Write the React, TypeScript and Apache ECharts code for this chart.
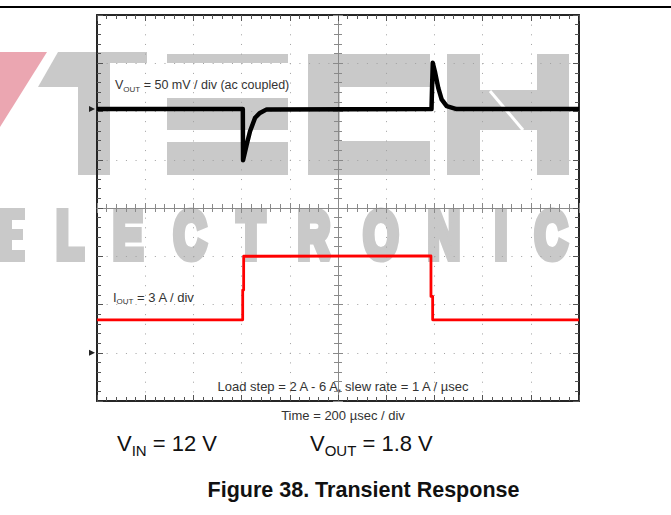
import React, { useEffect, useRef } from 'react';
import * as echarts from 'echarts';

// ---- scope settings ----
const TIME_MIN_US = 0;
const TIME_MAX_US = 2000;
const TIME_US_PER_DIV = 200;
const DIV_MIN = -4;
const DIV_MAX = 4;

// ---- channel 1: VOUT (ac coupled), 50 mV/div ----
const VOUT_MV_PER_DIV = 50;
const VOUT_OFFSET_DIV = 2.05;
const voutTimeUs = [0, 605, 606, 621, 635, 656, 676, 704, 1388, 1393, 1402, 1416, 1430, 1451, 1492, 2000];
const voutMv = [0, 0, -53, -37, -23, -9, -4, -0.3, 0, 48, 39, 22, 10, 3, 0, 0];

// ---- channel 2: IOUT, 3 A/div ----
const IOUT_A_PER_DIV = 3;
const IOUT_OFFSET_DIV = -3;
const ioutTimeUs = [0, 604.5, 604.6, 608.5, 608.6, 1385.7, 1385.8, 1392.7, 1392.8, 2000];
const ioutA = [2.05, 2.05, 3.9, 3.9, 6.0, 6.02, 3.5, 3.5, 2.05, 2.05];

// ---- texts ----
const voutLabel = ['V', 'OUT', ' = 50 mV / div (ac coupled)'];
const ioutLabel = ['I', 'OUT', ' = 3 A / div'];
const loadStepLabel = 'Load step = 2 A - 6 A, slew rate = 1 A / µsec';
const timeLabel = 'Time = 200 µsec / div';
const vinCond = ['V', 'IN', ' = 12 V'];
const voutCond = ['V', 'OUT', ' = 1.8 V'];
const figureTitle = 'Figure 38. Transient Response';
const watermarkLetters = ['L', 'E', 'C', 'T', 'R', 'O', 'N', 'I', 'C'];

const FONT = '"Liberation Sans", Arial, Helvetica, sans-serif';

function buildWatermark(): any[] {
  const gray = '#c9c9c9';
  const els: any[] = [];
  const z = -10;
  els.push({ type: 'polygon', z, shape: { points: [[0, 52], [47, 52], [0, 127]] }, style: { fill: '#eba6b1' } });
  // T
  els.push({ type: 'polygon', z, shape: { points: [[58, 52], [147, 52], [147, 87], [38, 87]] }, style: { fill: gray } });
  els.push({ type: 'rect', z, shape: { x: 78, y: 52, width: 32, height: 123 }, style: { fill: gray } });
  // E (three bars)
  els.push({ type: 'rect', z, shape: { x: 167, y: 54, width: 121, height: 32 }, style: { fill: gray } });
  els.push({ type: 'rect', z, shape: { x: 167, y: 98, width: 121, height: 32 }, style: { fill: gray } });
  els.push({ type: 'rect', z, shape: { x: 167, y: 142, width: 121, height: 33 }, style: { fill: gray } });
  // C
  els.push({ type: 'rect', z, shape: { x: 308, y: 54, width: 122, height: 33 }, style: { fill: gray } });
  els.push({ type: 'rect', z, shape: { x: 308, y: 54, width: 32, height: 121 }, style: { fill: gray } });
  els.push({ type: 'rect', z, shape: { x: 308, y: 141, width: 122, height: 34 }, style: { fill: gray } });
  // H
  els.push({ type: 'rect', z, shape: { x: 447, y: 54, width: 33, height: 121 }, style: { fill: gray } });
  els.push({ type: 'rect', z, shape: { x: 537, y: 54, width: 32, height: 121 }, style: { fill: gray } });
  els.push({ type: 'rect', z, shape: { x: 480, y: 90, width: 57, height: 40 }, style: { fill: gray } });
  els.push({ type: 'line', z: -9, shape: { x1: 490, y1: 91, x2: 523, y2: 130 }, style: { stroke: '#fff', lineWidth: 3 } });
  // partial "E" cut by the left page edge
  els.push({ type: 'rect', z, shape: { x: 0, y: 208, width: 12, height: 54 }, style: { fill: gray } });
  els.push({ type: 'rect', z, shape: { x: 0, y: 208, width: 25, height: 12 }, style: { fill: gray } });
  els.push({ type: 'rect', z, shape: { x: 0, y: 229, width: 23, height: 11 }, style: { fill: gray } });
  els.push({ type: 'rect', z, shape: { x: 0, y: 250, width: 25, height: 12 }, style: { fill: gray } });
  // LECTRONIC
  const centers = [70, 128, 190, 251, 314, 381, 444, 501, 551];
  watermarkLetters.forEach((ch, i) => {
    els.push({
      type: 'text', z, x: centers[i], y: 235, scaleX: 0.68,
      style: {
        text: ch, fill: gray, stroke: gray, lineWidth: 8,
        font: `bold 66px ${FONT}`, align: 'center', verticalAlign: 'middle',
      },
    });
  });
  // white box behind the VOUT scope label
  els.push({ type: 'rect', z: -9, shape: { x: 110, y: 63, width: 182, height: 34 }, style: { fill: '#fff' } });
  return els;
}

function richLabel(parts: string[], size: number, sub: number, color: string, lh: number) {
  return {
    text: `{m|${parts[0]}}{s|${parts[1]}}{m|${parts[2]}}`,
    rich: {
      m: { fontSize: size, fontFamily: FONT, fill: color, color, lineHeight: lh, verticalAlign: 'middle' },
      s: { fontSize: sub, fontFamily: FONT, fill: color, color, lineHeight: sub + 2, verticalAlign: 'bottom' },
    },
  };
}

export default function App() {
  const ref = useRef<HTMLDivElement>(null);
  useEffect(() => {
    if (!ref.current) return;
    const chart = echarts.init(ref.current, undefined, { renderer: 'svg' });

    const voutData = voutTimeUs.map((t, i) => [t, voutMv[i] / VOUT_MV_PER_DIV + VOUT_OFFSET_DIV]);
    const ioutData = ioutTimeUs.map((t, i) => [t, ioutA[i] / IOUT_A_PER_DIV + IOUT_OFFSET_DIV]);

    const border = '#262626';
    const tickCol = '#555';
    const centerCol = '#8a8a8a';

    const xBase = {
      type: 'value', min: TIME_MIN_US, max: TIME_MAX_US, interval: TIME_US_PER_DIV,
      axisLabel: { show: false }, splitLine: { show: false },
    };
    const yBase = {
      type: 'value', min: DIV_MIN, max: DIV_MAX, interval: 1,
      axisLabel: { show: false }, splitLine: { show: false },
    };
    const borderAxis = {
      axisLine: { show: true, onZero: false, lineStyle: { color: border, width: 2 } },
      axisTick: { show: true, inside: true, length: 6, lineStyle: { color: tickCol, width: 1 } },
      minorTick: { show: true, splitNumber: 5, length: 4, lineStyle: { color: tickCol, width: 1 } },
    };
    const centerIn = {
      axisLine: { show: true, onZero: false, lineStyle: { color: centerCol, width: 1 } },
      axisTick: { show: true, inside: true, length: 5, lineStyle: { color: centerCol, width: 1 } },
      minorTick: { show: true, splitNumber: 5, length: 4, lineStyle: { color: centerCol, width: 1 } },
    };
    const centerOut = {
      axisLine: { show: false, onZero: false },
      axisTick: { show: true, inside: false, length: 5, lineStyle: { color: centerCol, width: 1 } },
      minorTick: { show: true, splitNumber: 5, length: 4, lineStyle: { color: centerCol, width: 1 } },
    };

    const markerStyle = {
      symbol: 'triangle', symbolSize: [6, 6], symbolRotate: -90, symbolOffset: [-5, 0],
      itemStyle: { color: '#222' }, label: { show: false }, silent: true,
    };

    chart.setOption({
      animation: false,
      backgroundColor: '#fff',
      grid: { left: 97, top: 15, width: 482, height: 386, show: false },
      xAxis: [
        { ...xBase, position: 'bottom', ...borderAxis,
          splitLine: { show: true, lineStyle: { color: '#a0a0a0', width: 1, type: [1, 8.65] } } },
        { ...xBase, position: 'top', ...borderAxis },
        { ...xBase, position: 'bottom', offset: -193, ...centerIn },
        { ...xBase, position: 'bottom', offset: -193, ...centerOut },
      ],
      yAxis: [
        { ...yBase, position: 'left', ...borderAxis,
          splitLine: { show: true, lineStyle: { color: '#a0a0a0', width: 1, type: [1, 8.64] } } },
        { ...yBase, position: 'right', ...borderAxis },
        { ...yBase, position: 'left', offset: -241, ...centerIn },
        { ...yBase, position: 'left', offset: -241, ...centerOut },
      ],
      series: [
        {
          type: 'line', name: 'IOUT', data: ioutData, xAxisIndex: 0, yAxisIndex: 0,
          showSymbol: false, z: 3, silent: true,
          lineStyle: { color: '#ff0000', width: 2.8, join: 'round' },
          markPoint: { ...markerStyle, data: [{ coord: [TIME_MIN_US, IOUT_OFFSET_DIV] }] },
        },
        {
          type: 'line', name: 'VOUT', data: voutData, xAxisIndex: 0, yAxisIndex: 0,
          showSymbol: false, z: 4, silent: true,
          lineStyle: { color: '#000000', width: 4.5, join: 'round' },
          markPoint: { ...markerStyle, data: [{ coord: [TIME_MIN_US, VOUT_OFFSET_DIV] }] },
        },
      ],
      graphic: {
        elements: [
          ...buildWatermark(),
          { type: 'line', z: 10, shape: { x1: 0, y1: 7, x2: 671, y2: 7 }, style: { stroke: '#000', lineWidth: 2 } },
          { type: 'text', z: 10, x: 115, y: 85, style: { ...richLabel(voutLabel, 12.5, 8, '#333', 16), verticalAlign: 'middle' } },
          { type: 'text', z: 10, x: 113, y: 297, style: { ...richLabel(ioutLabel, 13, 8, '#333', 16), verticalAlign: 'middle' } },
          { type: 'text', z: 10, x: 343, y: 386, style: { text: loadStepLabel, font: `13px ${FONT}`, fill: '#333', align: 'center', verticalAlign: 'middle' } },
          { type: 'text', z: 10, x: 343, y: 415, style: { text: timeLabel, font: `13px ${FONT}`, fill: '#333', align: 'center', verticalAlign: 'middle' } },
          { type: 'text', z: 10, x: 117, y: 443, style: { ...richLabel(vinCond, 22, 15, '#111', 30), verticalAlign: 'middle' } },
          { type: 'text', z: 10, x: 310, y: 443, style: { ...richLabel(voutCond, 22, 15, '#111', 30), verticalAlign: 'middle' } },
          { type: 'text', z: 10, x: 363.5, y: 490, style: { text: figureTitle, font: `bold 21.5px ${FONT}`, fill: '#111', align: 'center', verticalAlign: 'middle' } },
        ],
      },
    });
    return () => chart.dispose();
  }, []);
  return <div ref={ref} style={{ position: 'fixed', left: 0, top: 0, width: 671, height: 515 }} />;
}
